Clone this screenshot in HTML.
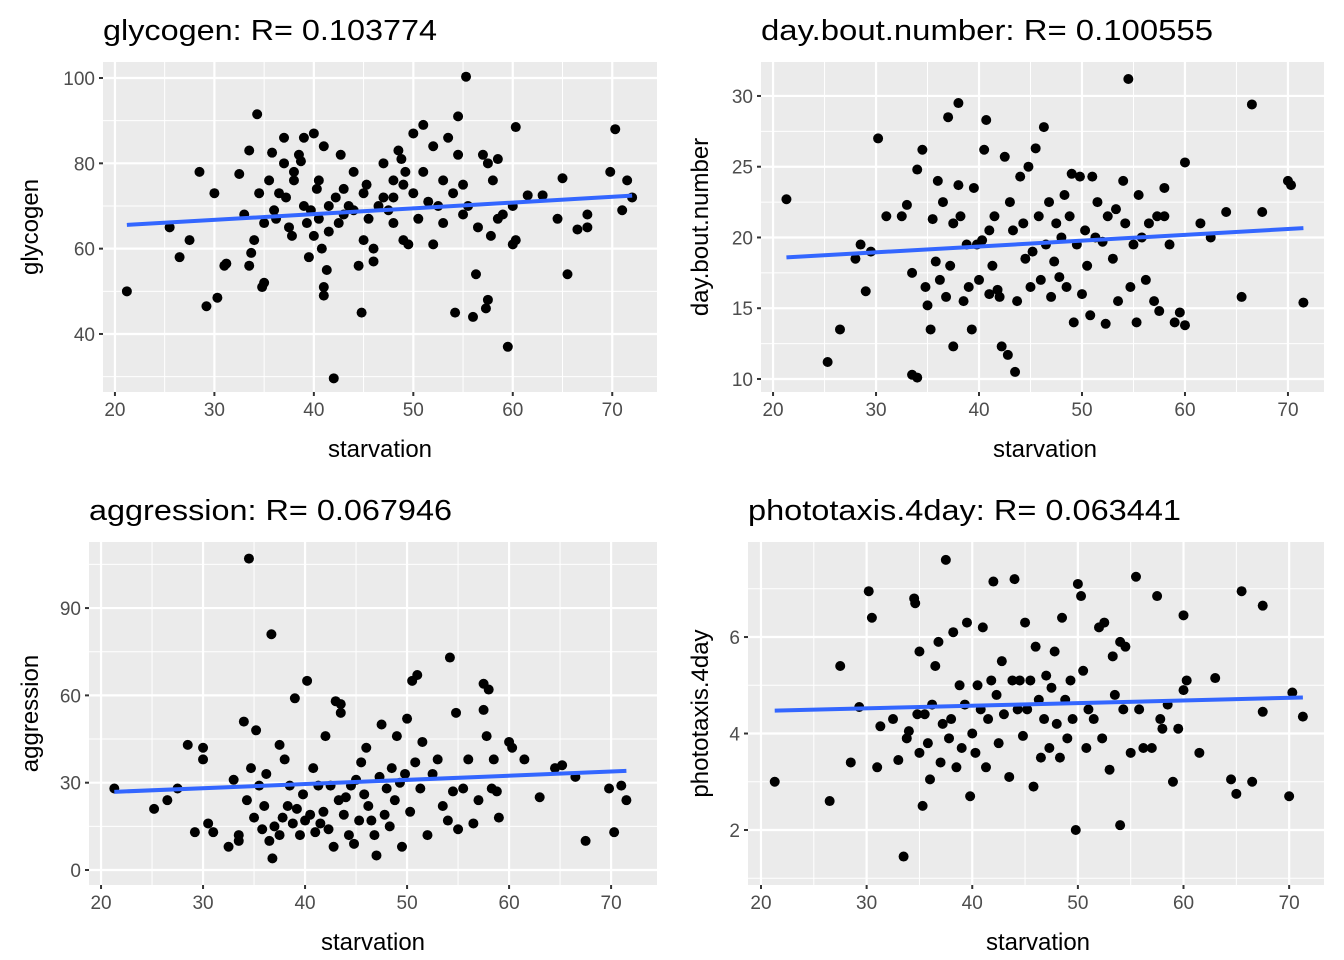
<!DOCTYPE html>
<html><head><meta charset="utf-8"><style>
html,body{margin:0;padding:0;background:#fff;}
svg{display:block;font-family:"Liberation Sans",sans-serif;}
</style></head><body>
<svg id="c" width="1344" height="960" viewBox="0 0 1344 960"></svg>
<script>
// ---- data ----
const glycogenX=[21.2,25.5,26.5,27.5,28.5,29.2,30,30.3,31,31.2,32.5,33,33.5,33.7,33.5,34,34.3,34.5,34.8,35,35,35.5,35.8,36,36.2,36.5,37,37,37.2,37.5,37.8,38,38,38.5,38.7,39,39,39.3,39.5,39.7,40,40,40.3,40.5,40.5,40.8,41,41,41,41.3,41.5,41.5,42,42.2,42.5,42.7,43,43,43.5,44,44,44.5,44.8,45,45,45.3,45.5,46,46,46.5,47,47,47.5,48,48,48,48.5,48.8,49,49,49.2,49.5,50,50,50.5,51,51,51.5,52,52,52.5,53,53,53.5,54,54.2,54.5,54.5,55,55.3,55,55.5,56,56.3,56.5,57,57.3,57.5,57.5,57.8,58,58.5,58.5,59,59.5,60,60,60.3,60.3,61.5,63,64.5,65,65.5,66.5,67.5,67.5,69.8,70.3,71,71.5,72];
const glycogenY=[50,65,58,62,78,46.5,73,48.5,56,56.5,77.5,68,83,59,56,62,91.5,73,51,52,66,76,82.5,69,67,73,86,80,72,65,63,78,76,82,80.5,86,70,66,58,69,63,87,74,76,67,60,84,51,49,55,64,70,29.6,72,66,82,74,68,70,78,69,56,45,62,73,75,67,60,57,70,72,80,69,76,72,66,83,81,75,62,78,61,87,73,67,89,78,71,61,84,70,76,66,86,73,45,91,82,75,100.3,68,70,44,54,65,82,46,48,80,63,76,81,67,68,37,61,70,88.5,62,72.5,72.5,67,76.5,54,64.5,65,68,78,88,69,76,72];
const dayboutX=[21.3,25.3,26.5,28,28.5,29,29.5,30.2,31,32.5,33,33.5,33.5,34,34,34.5,34.8,35,35.3,35.5,35.8,36,36.2,36.5,36.8,37,37.2,37.5,37.5,38,38,38.2,38.5,38.8,39,39.3,39.5,39.8,40,40.3,40.5,40.7,41,41,41.3,41.5,41.8,42,42.2,42.5,42.8,43,43.3,43.5,43.7,44,44.3,44.5,44.8,45,45.2,45.5,45.8,46,46.3,46.5,46.8,47,47.3,47.5,47.8,48,48.3,48.5,48.8,49,49.2,49.5,49.8,50,50.3,50.5,50.8,51,51.3,51.5,52,52.3,52.5,53,53.3,53.5,54,54.2,54.5,54.7,55,55.3,55.5,55.8,56.2,56.5,57,57.3,57.5,58,58,58.5,59,59.5,60,60,61.5,62.5,64,65.5,66.5,67.5,70,70.3,71.5];
const dayboutY=[22.7,11.2,13.5,18.5,19.5,16.2,19,27,21.5,21.5,22.3,17.5,10.3,24.8,10.1,26.2,16.5,15.2,13.5,21.3,18.3,24,17,22.5,15.8,28.5,18,21,12.3,29.5,23.7,21.5,15.5,19.5,16.5,13.5,23.5,19.5,17,19.8,26.2,28.3,20.5,16,18,21.5,16.3,15.8,12.3,25.7,11.7,22.5,20.5,10.5,15.5,24.3,21,18.5,25,16.5,19,26.3,21.5,17,27.8,19.5,22.5,15.8,18.3,21,17.2,20,23,16.5,21.5,24.5,14,19.5,24.3,16,20.5,18,14.5,24.3,20,22.5,19.7,13.9,21.5,18.5,22,15.5,24,21,31.2,16.5,19.5,14,23,20,17,21,15.5,21.5,14.8,23.5,21.5,19.5,14,14.7,25.3,13.8,21,20,21.8,15.8,29.4,21.8,24,23.7,15.4];
const aggrX=[21.3,25.2,26.5,27.5,28.5,29.2,30,30,30.5,31,32.5,33,33.5,33.5,34,34.3,34.5,34.7,35,35.2,35.5,35.8,36,36.2,36.5,36.7,36.8,37,37.5,37.5,37.8,38,38.3,38.5,38.8,39,39.2,39.5,39.8,40,40.2,40.5,40.8,41,41.3,41.5,41.8,42,42.3,42.5,42.8,43,43.3,43.5,43.5,43.8,44,44.3,44.5,44.8,45,45.3,45.5,45.8,46,46.2,46.5,46.8,47,47.3,47.5,47.8,48,48.3,48.5,48.8,49,49.3,49.5,49.8,50,50.3,50.5,50.8,51,51.3,51.5,52,52.5,53,53.5,54,54.2,54.5,54.8,55,55.5,56,56.5,57,57.5,57.5,57.8,58,58.3,58.5,58.8,59,60,60.3,61.5,63,64.5,65.2,66.5,67.5,69.8,70.3,71,71.5];
const aggrY=[28,21,24,28,43,13,38,42,16,13,8,31,12,10,51,24,107,35,18,48,29,14,22,33,10,81,4,15,12,43,18,38,22,29,16,59,21,12,26,17,65,19,35,13,29,16,20,46,14,29,8,58,24,54,57,19,25,12,29,9,31,17,37,26,42,22,17,12,5,32,50,19,28,15,35,24,46,30,8,33,52,20,65,37,67,28,44,12,33,38,22,17,73,27,54,14,28,38,16,24,64,55,46,62,28,38,27,18,44,42,38,25,35,36,32,10,28,13,29,24];
const photoX=[21.3,26.5,27.5,28.5,29.3,30.2,30.5,31,31.3,32.5,33,33.5,33.8,34,34.5,34.6,34.8,35,35,35.3,35.5,35.8,36,36.2,36.5,36.8,37,37.2,37.5,37.8,38,38.2,38.5,38.8,39,39.3,39.5,39.8,40,40.3,40.5,40.8,41,41.3,41.5,41.8,42,42.3,42.5,42.8,43,43.5,43.8,44,44.3,44.5,44.8,45,45.2,45.5,45.8,46,46.3,46.5,46.8,47,47.3,47.5,47.8,48,48.3,48.5,48.8,49,49.3,49.5,49.8,50,50.3,50.5,50.8,51,51.5,52,52.3,52.5,53,53.3,53.5,54,54,54.3,54.5,55,55.5,55.8,56.2,57,57.5,57.8,58,58.5,59,59.5,60,60,60.3,61.5,63,64.5,65,65.5,66.5,67.5,67.5,70,70.3,71.3];
const photoY=[3,2.6,5.4,3.4,4.55,6.95,6.4,3.3,4.15,4.3,3.45,1.45,3.9,4.05,6.8,6.7,4.4,3.6,5.7,2.5,4.4,3.8,3.05,4.6,5.4,5.9,3.4,4.2,7.6,3.9,4.3,6.1,3.3,5,3.7,4.6,6.3,2.7,4,3.6,5,4.5,6.2,3.3,4.3,5.1,7.15,4.8,3.8,5.5,4.4,3.1,5.1,7.2,4.5,5.1,3.95,6.3,4.5,5.1,2.9,5.8,4.7,3.5,4.3,5.2,3.7,4.95,5.7,4.2,3.5,6.4,4.7,3.9,5.1,4.3,2,7.1,6.85,5.3,3.7,4.5,4.3,6.2,3.9,6.3,3.25,5.6,4.8,5.9,2.1,4.5,5.8,3.6,7.25,4.5,3.7,3.7,6.85,4.3,4.1,4.6,3,4.1,6.45,4.9,5.1,3.6,5.15,3.05,2.75,6.95,3,6.65,4.45,2.7,4.85,4.35];
const panelTitles=["glycogen: R= 0.103774","day.bout.number: R= 0.100555","aggression: R= 0.067946","phototaxis.4day: R= 0.063441"];
const yTitles=["glycogen","day.bout.number","aggression","phototaxis.4day"];
const xTicks=[20,30,40,50,60,70];
const yTicks1=[40,60,80,100], yTicks2=[10,15,20,25,30], yTicks3=[0,30,60,90], yTicks4=[2,4,6];

const panels=[
 {name:"glycogen",X:glycogenX,Y:glycogenY,yt:yTicks1,ystep:20,l:103,r:657,t:62,b:392,xd:[18.8,74.5],yd:[26.4,103.75],tx:103,tw:334,ty:40,xtx:380,yax:30},
 {name:"day-bout-number",X:dayboutX,Y:dayboutY,yt:yTicks2,ystep:5,l:761,r:1324,t:62,b:392,xd:[18.83,73.5],yd:[9.08,32.4],tx:761,tw:452,ty:40,xtx:1045,yax:700},
 {name:"aggression",X:aggrX,Y:aggrY,yt:yTicks3,ystep:30,l:89,r:657,t:542,b:885,xd:[18.82,74.5],yd:[-5.15,112.7],tx:89,tw:363,ty:520,xtx:373,yax:30},
 {name:"phototaxis-4day",X:photoX,Y:photoY,yt:yTicks4,ystep:2,l:748,r:1324,t:542,b:885,xd:[18.77,73.3],yd:[0.86,7.97],tx:748,tw:433,ty:520,xtx:1038,yax:700}
];
const NS="http://www.w3.org/2000/svg";
const svg=document.getElementById('c');
function mk(tag,attrs,parent){const e=document.createElementNS(NS,tag);for(const k in attrs)e.setAttribute(k,attrs[k]);(parent||svg).appendChild(e);return e;}
panels.forEach((p,i)=>{
 const g=mk('g',{});
 
 
 const sx=v=>p.l+(v-p.xd[0])/(p.xd[1]-p.xd[0])*(p.r-p.l);
 const sy=v=>p.b-(v-p.yd[0])/(p.yd[1]-p.yd[0])*(p.b-p.t);
 const bg=mk('rect',{x:p.l,y:p.t,width:p.r-p.l,height:p.b-p.t,fill:'#EBEBEB'},g);
 
 
 // minor grid
 for(let v=15;v<=80;v+=10){if(v>p.xd[0]&&v<p.xd[1])mk('line',{x1:sx(v),x2:sx(v),y1:p.t,y2:p.b,stroke:'#fff','stroke-width':1},g);}
 const ys=p.ystep;
 for(let v=p.yt[0]-ys/2;v<=p.yt[p.yt.length-1]+ys;v+=ys){if(v>p.yd[0]&&v<p.yd[1])mk('line',{y1:sy(v),y2:sy(v),x1:p.l,x2:p.r,stroke:'#fff','stroke-width':1},g);}
 // major grid + ticks
 xTicks.forEach(v=>{
  mk('line',{x1:sx(v),x2:sx(v),y1:p.t,y2:p.b,stroke:'#fff','stroke-width':2.2},g);
  mk('line',{x1:sx(v),x2:sx(v),y1:p.b,y2:p.b+4,stroke:'#333','stroke-width':2},g);
  const t=mk('text',{x:sx(v),y:p.b+24,'text-anchor':'middle','font-size':19,fill:'#4D4D4D'},g);t.textContent=v;
  
  
 });
 p.yt.forEach(v=>{
  mk('line',{y1:sy(v),y2:sy(v),x1:p.l,x2:p.r,stroke:'#fff','stroke-width':2.2},g);
  mk('line',{y1:sy(v),y2:sy(v),x1:p.l-4,x2:p.l,stroke:'#333','stroke-width':2},g);
  const t=mk('text',{x:p.l-8,y:sy(v)+7,'text-anchor':'end','font-size':19,fill:'#4D4D4D'},g);t.textContent=v;
  
  
 });
 // points
 p.X.forEach((x,j)=>{
  const c=mk('circle',{cx:sx(x),cy:sy(p.Y[j]),r:5,fill:'#000'},g);
  
  
 });
 // regression
 const n=p.X.length;let mx=0,my=0;p.X.forEach((x,j)=>{mx+=x;my+=p.Y[j];});mx/=n;my/=n;
 let sxy=0,sxx=0;p.X.forEach((x,j)=>{sxy+=(x-mx)*(p.Y[j]-my);sxx+=(x-mx)*(x-mx);});
 const b=sxy/sxx,a=my-b*mx;const x0=Math.min(...p.X),x1=Math.max(...p.X);
 const ln=mk('line',{x1:sx(x0),y1:sy(a+b*x0),x2:sx(x1),y2:sy(a+b*x1),stroke:'#3366FF','stroke-width':4},g);
 
 
 const tt=mk('text',{x:p.tx,y:p.ty,'font-size':29,fill:'#000',textLength:p.tw,lengthAdjust:'spacingAndGlyphs'},g);tt.textContent=panelTitles[i];
 
 
 const xt=mk('text',{x:p.xtx,y:p.b+65,'text-anchor':'middle','font-size':24,fill:'#000'},g);xt.textContent='starvation';
 
 
 const cy=(p.t+p.b)/2;
 const yt=mk('text',{x:p.yax+8,y:cy,'text-anchor':'middle','font-size':24,fill:'#000',transform:`rotate(-90 ${p.yax+8} ${cy})`},g);yt.textContent=yTitles[i];
 
 
});
</script>
</body></html>
